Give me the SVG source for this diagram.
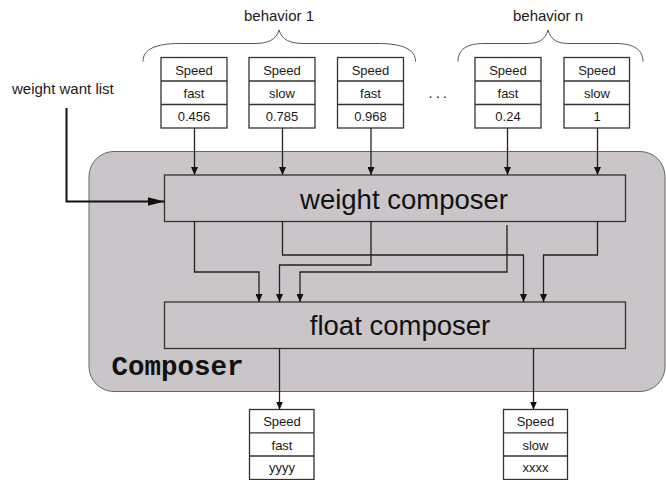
<svg xmlns="http://www.w3.org/2000/svg" width="666" height="480" viewBox="0 0 666 480">
  <style>
    .cell { fill: #ffffff; stroke: #333333; stroke-width: 1.3; }
    .div { stroke: #333333; stroke-width: 1.3; }
    .small { font-family: "Liberation Sans", Arial, sans-serif; font-size: 13px; fill: #1a1a1a; text-anchor: middle; }
    .label { font-family: "Liberation Sans", Arial, sans-serif; font-size: 15px; fill: #1a1a1a; }
    .big { font-family: "Liberation Sans", Arial, sans-serif; font-size: 27.5px; fill: #111111; text-anchor: middle; }
    .block { fill: #c9c5c9; stroke: #333333; stroke-width: 1.3; }
    .wire { fill: none; stroke: #222222; stroke-width: 1.3; }
    .brace { fill: none; stroke: #555555; stroke-width: 1; }
  </style>
  <defs>
    <marker id="tip" markerUnits="userSpaceOnUse" markerWidth="8" markerHeight="7" refX="8" refY="3.5" orient="auto">
      <path d="M0,0 L8,3.5 L0,7 z" fill="#111111"/>
    </marker>
    <marker id="bigtip" markerUnits="userSpaceOnUse" markerWidth="17" markerHeight="9" refX="17" refY="4.5" orient="auto">
      <path d="M0,0 L17,4.5 L0,9 z" fill="#111111"/>
    </marker>
  </defs>

  <!-- Composer container -->
  <g id="composer">
    <rect x="89" y="151.5" width="576" height="240" rx="25" ry="25" fill="#c9c5c9" stroke="#666666" stroke-width="1"/>
    <text x="111.5" y="375" font-family="'Liberation Mono', 'Courier New', monospace" font-weight="bold" font-size="27.5px" fill="#111111">Composer</text>
  </g>

  <!-- Group braces and labels -->
  <g id="behavior-1">
    <path class="brace" d="M143,61.5 C143,49 156,43.5 180,43.5 L254,43.5 C268,43.5 276,40 279,30 C282,40 290,43.5 304,43.5 L378,43.5 C402,43.5 415.5,49 415.5,61.5"/>
    <text class="label" x="279" y="21" text-anchor="middle">behavior 1</text>
  </g>
  <g id="behavior-n">
    <path class="brace" d="M458,61.5 C458,50 466,43.5 484,43.5 L526,43.5 C539,43.5 545,40 548,30 C551,40 557,43.5 570,43.5 L616,43.5 C634,43.5 643,50 643,61.5"/>
    <text class="label" x="548" y="21" text-anchor="middle">behavior n</text>
  </g>
  <g id="ellipsis">
    <text class="label" x="428.5" y="97.5" letter-spacing="3">...</text>
  </g>
  <g id="weight-want-list">
    <text class="label" x="12" y="94">weight want list</text>
  </g>

  <!-- Input records -->
  <g id="in-1">
    <rect class="cell" x="161" y="57.5" width="66" height="70.5"/>
    <line class="div" x1="161" y1="81" x2="227" y2="81"/>
    <line class="div" x1="161" y1="104.5" x2="227" y2="104.5"/>
    <text class="small" x="194" y="74.5">Speed</text>
    <text class="small" x="194" y="97.5">fast</text>
    <text class="small" x="194" y="121">0.456</text>
  </g>
  <g id="in-2">
    <rect class="cell" x="249" y="57.5" width="66" height="70.5"/>
    <line class="div" x1="249" y1="81" x2="315" y2="81"/>
    <line class="div" x1="249" y1="104.5" x2="315" y2="104.5"/>
    <text class="small" x="282" y="74.5">Speed</text>
    <text class="small" x="282" y="97.5">slow</text>
    <text class="small" x="282" y="121">0.785</text>
  </g>
  <g id="in-3">
    <rect class="cell" x="337.5" y="57.5" width="66" height="70.5"/>
    <line class="div" x1="337.5" y1="81" x2="403.5" y2="81"/>
    <line class="div" x1="337.5" y1="104.5" x2="403.5" y2="104.5"/>
    <text class="small" x="370.5" y="74.5">Speed</text>
    <text class="small" x="370.5" y="97.5">fast</text>
    <text class="small" x="370.5" y="121">0.968</text>
  </g>
  <g id="in-4">
    <rect class="cell" x="475" y="57.5" width="66" height="70.5"/>
    <line class="div" x1="475" y1="81" x2="541" y2="81"/>
    <line class="div" x1="475" y1="104.5" x2="541" y2="104.5"/>
    <text class="small" x="508" y="74.5">Speed</text>
    <text class="small" x="508" y="97.5">fast</text>
    <text class="small" x="508" y="121">0.24</text>
  </g>
  <g id="in-5">
    <rect class="cell" x="564" y="57.5" width="65.5" height="70.5"/>
    <line class="div" x1="564" y1="81" x2="629.5" y2="81"/>
    <line class="div" x1="564" y1="104.5" x2="629.5" y2="104.5"/>
    <text class="small" x="597" y="74.5">Speed</text>
    <text class="small" x="597" y="97.5">slow</text>
    <text class="small" x="597" y="121">1</text>
  </g>

  <!-- Composer stages -->
  <g id="weight-composer">
    <rect class="block" x="164.5" y="175" width="461" height="46.5"/>
    <text class="big" x="404" y="208.5">weight composer</text>
  </g>
  <g id="float-composer">
    <rect class="block" x="164.5" y="302" width="461" height="46.5"/>
    <text class="big" x="400" y="335">float composer</text>
  </g>

  <!-- Output records -->
  <g id="out-1">
    <rect class="cell" x="249.5" y="409.5" width="64.5" height="70"/>
    <line class="div" x1="249.5" y1="432.8" x2="314" y2="432.8"/>
    <line class="div" x1="249.5" y1="456" x2="314" y2="456"/>
    <text class="small" x="282" y="426">Speed</text>
    <text class="small" x="282" y="449.5">fast</text>
    <text class="small" x="282" y="472">yyyy</text>
  </g>
  <g id="out-2">
    <rect class="cell" x="503.5" y="409.5" width="64" height="70"/>
    <line class="div" x1="503.5" y1="432.8" x2="567.5" y2="432.8"/>
    <line class="div" x1="503.5" y1="456" x2="567.5" y2="456"/>
    <text class="small" x="535.5" y="426">Speed</text>
    <text class="small" x="535.5" y="449.5">slow</text>
    <text class="small" x="535.5" y="472">xxxx</text>
  </g>

  <!-- Connectors -->
  <g id="connectors">
    <path d="M66.5,108 L66.5,201.5 L164.5,201.5" fill="none" stroke="#111111" stroke-width="2" marker-end="url(#bigtip)"/>

    <line class="wire" x1="194.5" y1="128" x2="194.5" y2="175" marker-end="url(#tip)"/>
    <line class="wire" x1="282.5" y1="128" x2="282.5" y2="175" marker-end="url(#tip)"/>
    <line class="wire" x1="371" y1="128" x2="371" y2="175" marker-end="url(#tip)"/>
    <line class="wire" x1="507.5" y1="128" x2="507.5" y2="175" marker-end="url(#tip)"/>
    <line class="wire" x1="597.5" y1="128" x2="597.5" y2="175" marker-end="url(#tip)"/>

    <path class="wire" d="M194.5,221.5 L194.5,272 L259,272 L259,302" marker-end="url(#tip)"/>
    <path class="wire" d="M282.5,221.5 L282.5,255 L523.5,255 L523.5,302" marker-end="url(#tip)"/>
    <path class="wire" d="M371,221.5 L371,265 L279.5,265 L279.5,302" marker-end="url(#tip)"/>
    <path class="wire" d="M507,225 L507,272 L300,272 L300,302" marker-end="url(#tip)"/>
    <path class="wire" d="M597.5,221.5 L597.5,255 L543.5,255 L543.5,302" marker-end="url(#tip)"/>

    <line class="wire" x1="279.5" y1="348.5" x2="279.5" y2="409.5" marker-end="url(#tip)"/>
    <line class="wire" x1="533.5" y1="348.5" x2="533.5" y2="409.5" marker-end="url(#tip)"/>
  </g>
</svg>
